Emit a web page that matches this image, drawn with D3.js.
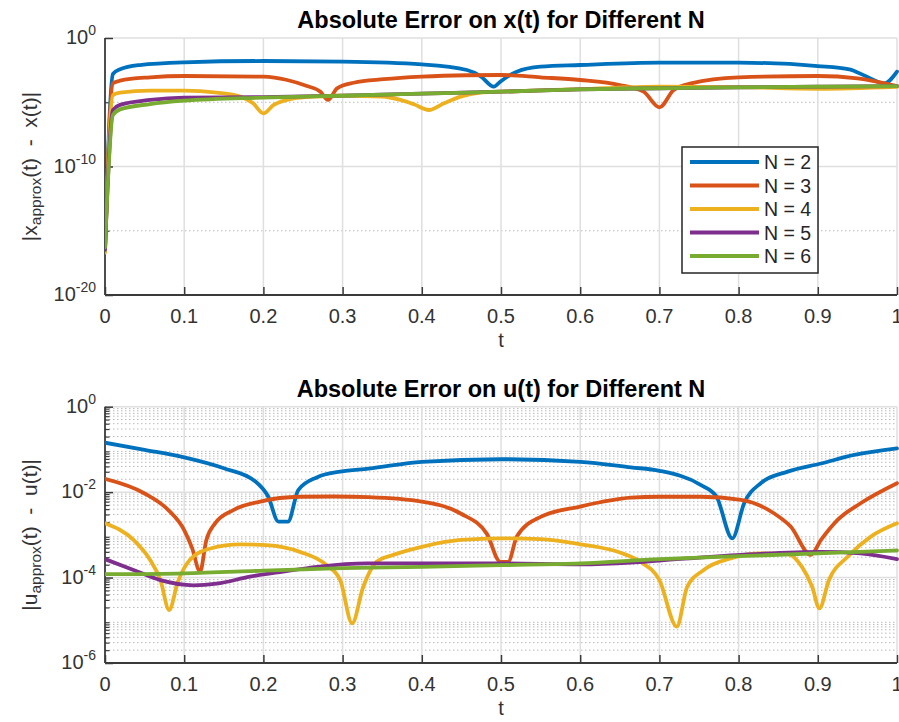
<!DOCTYPE html>
<html>
<head>
<meta charset="utf-8">
<script src="https://cdn.jsdelivr.net/npm/d3@7"></script>
<style>
  body { margin: 0; background: #fff; }
  svg { display: block; font-family: Arial, "Liberation Sans", Helvetica, sans-serif; }
</style>
</head>
<body>
<svg id="fig" width="899" height="722"></svg>
<script>
// ---- data ---------------------------------------------------------------
const seriesLabels = ["N = 2", "N = 3", "N = 4", "N = 5", "N = 6"];
const seriesColors = ["#0072BD", "#D95319", "#EDB120", "#7E2F8E", "#77AC30"];

const tTicks = [0, 0.1, 0.2, 0.3, 0.4, 0.5, 0.6, 0.7, 0.8, 0.9, 1];
const tTickLabels = ["0", "0.1", "0.2", "0.3", "0.4", "0.5", "0.6", "0.7", "0.8", "0.9", "1"];

const xErrTicks = [1e-20, 1e-10, 1e0];
const xErrTickExp = ["-20", "-10", "0"];
const xErrMinorTicks = [1e-15, 1e-5];

const uErrTicks = [1e-6, 1e-4, 1e-2, 1e0];
const uErrTickExp = ["-6", "-4", "-2", "0"];

// |x_approx(t) - x(t)|, pairs of [t, error]
const xErrN2 = [[0, 2.5e-17], [0.01, 1.58e-3], [0.019, 3.63e-3], [0.044, 7.9e-3], [0.1, 1.29e-2],
  [0.2, 1.62e-2], [0.3, 1.45e-2], [0.4, 8.9e-3], [0.457, 3.24e-3], [0.474, 1.1e-3], [0.491, 1.62e-4],
  [0.499, 4.0e-4], [0.52, 2.4e-3], [0.55, 5.9e-3], [0.6, 7.9e-3], [0.7, 1.2e-2], [0.8, 1.2e-2],
  [0.9, 6.6e-3], [0.94, 3.63e-3], [0.96, 1.1e-3], [0.984, 2.95e-4], [1.0, 2.4e-3]];
const xErrN3 = [[0, 2.5e-17], [0.01, 2.95e-4], [0.019, 4.8e-4], [0.057, 8.7e-4], [0.1, 1.1e-3],
  [0.2, 9.8e-4], [0.23, 5.4e-4], [0.255, 1.82e-4], [0.272, 6.6e-5], [0.2815, 1.51e-5], [0.293, 1.2e-4],
  [0.314, 3.3e-4], [0.352, 6.2e-4], [0.4, 9.8e-4], [0.457, 1.26e-3], [0.5, 1.32e-3], [0.55, 8.7e-4],
  [0.6, 5.4e-4], [0.65, 2.2e-4], [0.68, 6.6e-5], [0.70, 4.0e-6], [0.718, 8.9e-5], [0.74, 2.95e-4],
  [0.8, 8.7e-4], [0.9, 1.1e-3], [0.95, 7.2e-4], [1.0, 1.82e-4]];
const xErrN4 = [[0, 2.0e-17], [0.01, 3.6e-5], [0.019, 5.6e-5], [0.057, 7.9e-5], [0.1, 7.9e-5],
  [0.141, 5.6e-5], [0.171, 2.75e-5], [0.187, 8.3e-6], [0.2, 1.38e-6], [0.213, 6.2e-6], [0.238, 2.0e-5],
  [0.263, 2.75e-5], [0.3, 3.2e-5], [0.35, 2.8e-5], [0.373, 1.51e-5], [0.39, 6.9e-6], [0.409, 2.5e-6],
  [0.428, 8.3e-6], [0.449, 2.75e-5], [0.474, 5.6e-5], [0.5, 6.6e-5], [0.6, 1.05e-4], [0.7, 1.66e-4],
  [0.8, 1.5e-4], [0.9, 1.12e-4], [1.0, 1.58e-4]];
const xErrN5 = [[0, 3.2e-17], [0.01, 2.5e-6], [0.019, 6.2e-6], [0.057, 1.51e-5], [0.1, 2.3e-5],
  [0.2, 2.5e-5], [0.3, 3.3e-5], [0.4, 4.7e-5], [0.5, 6.6e-5], [0.6, 1.0e-4], [0.7, 1.23e-4],
  [0.8, 1.45e-4], [0.9, 1.62e-4], [1.0, 1.82e-4]];
const xErrN6 = [[0, 5.0e-17], [0.01, 1.02e-6], [0.019, 2.8e-6], [0.057, 7.2e-6], [0.1, 1.32e-5],
  [0.2, 2.3e-5], [0.3, 3.2e-5], [0.4, 4.7e-5], [0.5, 6.6e-5], [0.6, 1.02e-4], [0.7, 1.23e-4],
  [0.8, 1.45e-4], [0.9, 1.62e-4], [1.0, 1.82e-4]];

// |u_approx(t) - u(t)|, pairs of [t, error]
const uErrN2 = [[0, 0.1435], [0.05, 0.0977], [0.1, 0.0653], [0.15, 0.0363], [0.19, 0.0178],
  [0.206, 7.9e-3], [0.219, 2.04e-3], [0.231, 2.04e-3], [0.244, 0.0112], [0.268, 0.0224],
  [0.297, 0.0302], [0.333, 0.0355], [0.4, 0.0513], [0.5, 0.0589], [0.6, 0.0513], [0.664, 0.038],
  [0.7, 0.0316], [0.752, 0.0148], [0.772, 7.9e-3], [0.792, 8.3e-4], [0.807, 5.5e-3], [0.828, 0.0162],
  [0.862, 0.0302], [0.904, 0.0468], [0.946, 0.0741], [1.0, 0.106]];
const uErrN3 = [[0, 0.0204], [0.05, 9.3e-3], [0.08, 3.8e-3], [0.1, 1.29e-3], [0.11, 4.9e-4],
  [0.12, 1.38e-4], [0.128, 7.6e-4], [0.139, 1.86e-3], [0.162, 3.8e-3], [0.196, 6.0e-3], [0.246, 7.8e-3],
  [0.289, 7.9e-3], [0.333, 7.6e-3], [0.4, 6.0e-3], [0.449, 3.16e-3], [0.482, 1.07e-3], [0.499, 2.34e-4],
  [0.509, 2.34e-4], [0.52, 9.1e-4], [0.55, 2.63e-3], [0.6, 4.6e-3], [0.664, 7.4e-3], [0.7, 7.8e-3],
  [0.752, 7.8e-3], [0.803, 6.6e-3], [0.845, 3.16e-3], [0.866, 1.55e-3], [0.891, 3.4e-4], [0.904, 7.6e-4],
  [0.925, 2.24e-3], [0.954, 5.5e-3], [1.0, 0.0162]];
const uErrN4 = [[0, 1.86e-3], [0.036, 7.6e-4], [0.057, 2.57e-4], [0.07, 8.7e-5], [0.081, 1.74e-5],
  [0.092, 7.9e-5], [0.107, 2.57e-4], [0.133, 4.8e-4], [0.171, 6.0e-4], [0.204, 5.75e-4], [0.246, 4.0e-4],
  [0.28, 1.95e-4], [0.297, 8.7e-5], [0.312, 8.5e-6], [0.326, 6.0e-5], [0.343, 2.34e-4], [0.364, 3.4e-4],
  [0.4, 5.25e-4], [0.449, 7.6e-4], [0.5, 8.3e-4], [0.55, 7.9e-4], [0.6, 6.0e-4], [0.651, 3.8e-4],
  [0.676, 2.34e-4], [0.7, 8.7e-5], [0.722, 7.1e-6], [0.735, 6.0e-5], [0.756, 1.51e-4], [0.79, 2.82e-4],
  [0.828, 3.7e-4], [0.862, 3.55e-4], [0.88, 1.78e-4], [0.893, 6.0e-5], [0.902, 1.9e-5], [0.914, 8.7e-5],
  [0.938, 3.1e-4], [0.967, 9.1e-4], [1.0, 1.86e-3]];
const uErrN5 = [[0, 2.7e-4], [0.036, 1.51e-4], [0.07, 8.7e-5], [0.112, 6.6e-5], [0.141, 7.2e-5],
  [0.183, 1.05e-4], [0.225, 1.38e-4], [0.268, 1.78e-4], [0.331, 2.14e-4], [0.4, 2.14e-4], [0.5, 2.14e-4],
  [0.6, 2.04e-4], [0.664, 2.24e-4], [0.7, 2.5e-4], [0.803, 3.4e-4], [0.904, 4.0e-4], [0.954, 3.7e-4],
  [1.0, 2.7e-4]];
const uErrN6 = [[0, 1.2e-4], [0.1, 1.26e-4], [0.2, 1.45e-4], [0.3, 1.66e-4], [0.4, 1.78e-4],
  [0.5, 1.95e-4], [0.6, 2.14e-4], [0.7, 2.7e-4], [0.8, 3.16e-4], [0.9, 3.7e-4], [1.0, 4.3e-4]];

// ---- drawing ------------------------------------------------------------
const svg = d3.select("#fig");
svg.append("rect").attr("width", 899).attr("height", 722).attr("fill", "#fff");

const axisColor = "#3a3a3a";
const gridColor = "#dfdfdf";
const minorGridColor = "#b9b9b9";
const left = 105, right = 897;

function drawPanel(cfg) {
  const g = svg.append("g");
  const x = d3.scaleLinear().domain([0, 1]).range([left, right]);
  const y = d3.scaleLog().domain(cfg.yDomain).range([cfg.bottom, cfg.top]);

  // minor grid (dotted)
  g.append("g").selectAll("line").data(cfg.yMinor).join("line")
    .attr("x1", left).attr("x2", right)
    .attr("y1", d => y(d)).attr("y2", d => y(d))
    .attr("stroke", minorGridColor).attr("stroke-width", 1)
    .attr("stroke-dasharray", "1.5,2.5");

  // major grid
  g.append("g").selectAll("line").data(tTicks.slice(1)).join("line")
    .attr("x1", d => x(d)).attr("x2", d => x(d))
    .attr("y1", cfg.top).attr("y2", cfg.bottom)
    .attr("stroke", gridColor).attr("stroke-width", 1.5);
  g.append("g").selectAll("line").data(cfg.yTicks.slice(1)).join("line")
    .attr("x1", left).attr("x2", right)
    .attr("y1", d => y(d)).attr("y2", d => y(d))
    .attr("stroke", gridColor).attr("stroke-width", 1.5);

  // axes (inward ticks)
  const xAxis = d3.axisTop(x).tickValues(tTicks).tickSize(8).tickFormat("");
  g.append("g").attr("transform", `translate(0,${cfg.bottom})`).call(xAxis)
    .call(a => a.select(".domain").remove())
    .call(a => a.selectAll("line").attr("stroke", axisColor).attr("stroke-width", 1.5));
  const yAxis = d3.axisRight(y).tickValues(cfg.yTicks).tickSize(8).tickFormat("");
  g.append("g").attr("transform", `translate(${left},0)`).call(yAxis)
    .call(a => a.select(".domain").remove())
    .call(a => a.selectAll("line").attr("stroke", axisColor).attr("stroke-width", 1.5));
  const yMinorAxis = d3.axisRight(y).tickValues(cfg.yMinor).tickSize(4.5).tickFormat("");
  g.append("g").attr("transform", `translate(${left},0)`).call(yMinorAxis)
    .call(a => a.select(".domain").remove())
    .call(a => a.selectAll("line").attr("stroke", axisColor).attr("stroke-width", 1.2));

  g.append("line").attr("x1", left).attr("x2", right).attr("y1", cfg.bottom).attr("y2", cfg.bottom)
    .attr("stroke", axisColor).attr("stroke-width", 1.8);
  g.append("line").attr("x1", left).attr("x2", left).attr("y1", cfg.top).attr("y2", cfg.bottom)
    .attr("stroke", axisColor).attr("stroke-width", 1.8);

  // tick labels
  g.append("g").selectAll("text").data(tTicks).join("text")
    .attr("x", d => x(d)).attr("y", cfg.bottom + 28)
    .attr("text-anchor", "middle").attr("font-size", 20).attr("fill", "#333")
    .text((d, i) => tTickLabels[i]);
  const yl = g.append("g").selectAll("text").data(cfg.yTicks).join("text")
    .attr("x", 96).attr("y", d => y(d) + 6)
    .attr("text-anchor", "end").attr("font-size", 20).attr("fill", "#333");
  yl.append("tspan").text("10");
  yl.append("tspan").attr("font-size", 14).attr("dy", -9).text((d, i) => cfg.yTickExp[i]);

  // labels and title
  g.append("text").attr("x", (left + right) / 2).attr("y", cfg.bottom + 52)
    .attr("text-anchor", "middle").attr("font-size", 20).attr("fill", "#333").text("t");
  g.append("text").attr("x", (left + right) / 2).attr("y", cfg.top - 10)
    .attr("text-anchor", "middle").attr("font-size", 23.5).attr("font-weight", "bold")
    .attr("fill", "#000").text(cfg.title);
  const ylab = g.append("text")
    .attr("transform", `translate(37,${(cfg.top + cfg.bottom) / 2}) rotate(-90)`)
    .attr("text-anchor", "middle").attr("font-size", 21).attr("fill", "#333")
    .style("white-space", "pre");
  ylab.append("tspan").text("|" + cfg.sym);
  ylab.append("tspan").attr("font-size", 15.5).attr("dy", 4).text("approx");
  ylab.append("tspan").attr("dy", -4).text("(t)  -  " + cfg.sym + "(t)|");

  // series
  const clipId = "clip" + cfg.id;
  svg.append("clipPath").attr("id", clipId).append("rect")
    .attr("x", left).attr("y", cfg.top - 2).attr("width", right - left + 2).attr("height", cfg.bottom - cfg.top + 2);
  const line = d3.line().x(d => x(d[0])).y(d => y(d[1])).curve(d3.curveMonotoneX);
  g.append("g").attr("clip-path", `url(#${clipId})`)
    .selectAll("path").data(cfg.series).join("path")
    .attr("d", d => line(d)).attr("fill", "none")
    .attr("stroke", (d, i) => seriesColors[i]).attr("stroke-width", 3.8)
    .attr("stroke-linejoin", "round").attr("stroke-linecap", "round");
  return { x, y };
}

const uMinor = [];
for (let e = -6; e < 0; e++) for (let m = 2; m <= 9; m++) uMinor.push(m * Math.pow(10, e));

drawPanel({
  id: "x", top: 38, bottom: 295, yDomain: [1e-20, 1],
  yTicks: xErrTicks, yTickExp: xErrTickExp, yMinor: xErrMinorTicks,
  title: "Absolute Error on x(t) for Different N", sym: "x",
  series: [xErrN2, xErrN3, xErrN4, xErrN5, xErrN6]
});
drawPanel({
  id: "u", top: 406.7, bottom: 663, yDomain: [1e-6, 1],
  yTicks: uErrTicks, yTickExp: uErrTickExp, yMinor: uMinor,
  title: "Absolute Error on u(t) for Different N", sym: "u",
  series: [uErrN2, uErrN3, uErrN4, uErrN5, uErrN6]
});

// legend for the upper panel
const lg = svg.append("g");
lg.append("rect").attr("x", 682).attr("y", 147).attr("width", 136).attr("height", 126)
  .attr("fill", "#fff").attr("stroke", "#262626").attr("stroke-width", 1.5);
const legendRows = lg.selectAll("g.row").data(seriesLabels).join("g").attr("class", "row")
  .attr("transform", (d, i) => `translate(0,${162 + i * 23.5})`);
legendRows.append("line").attr("x1", 690).attr("x2", 759)
  .attr("stroke", (d, i) => seriesColors[i]).attr("stroke-width", 3.8);
legendRows.append("text").attr("x", 764).attr("y", 7).attr("font-size", 19.5)
  .attr("fill", "#262626").text(d => d);
</script>
</body>
</html>
